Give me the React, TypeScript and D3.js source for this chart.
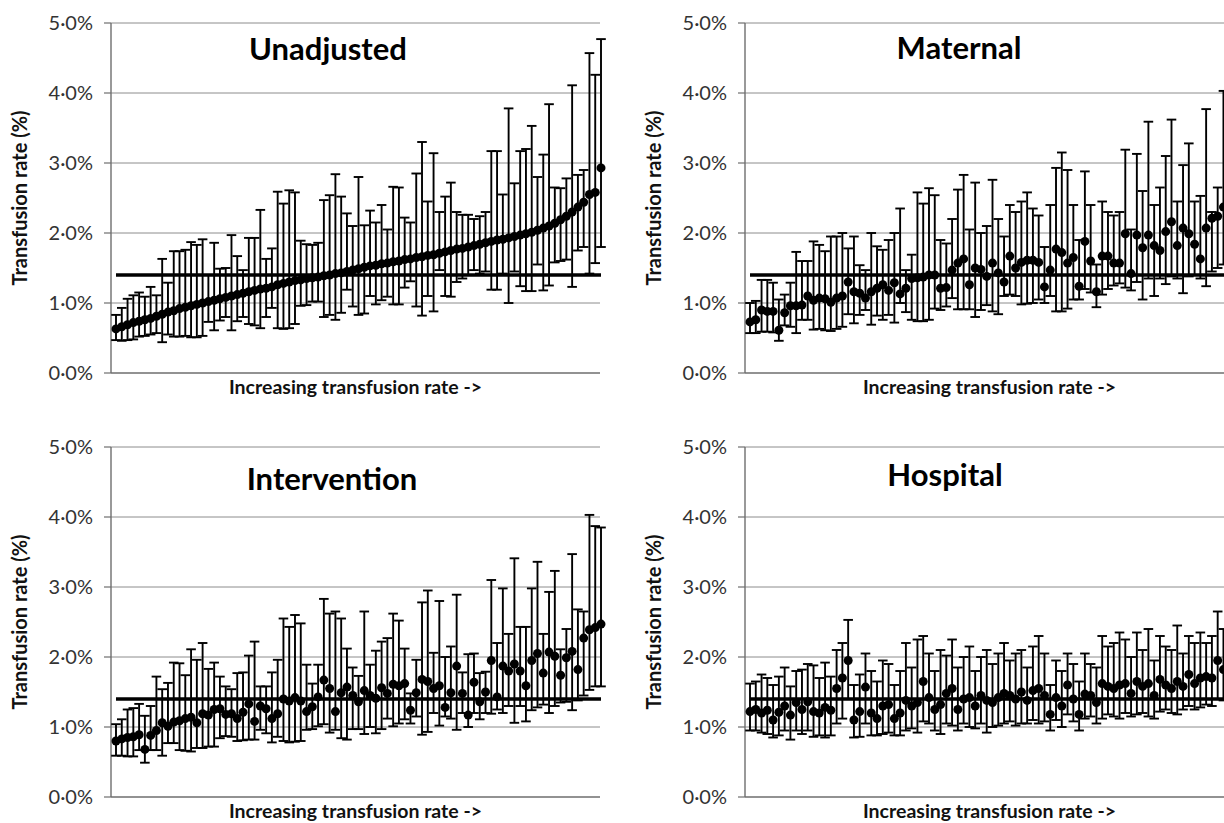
import React, { useEffect, useRef } from 'react';
import * as d3 from 'd3';

// hospitals in the same order in every panel (sorted by unadjusted rate)
const unadjustedRate = [
  0.63, 0.66, 0.69, 0.72, 0.74, 0.76, 0.78, 0.81, 0.84, 0.87,
  0.89, 0.92, 0.94, 0.96, 0.98, 1.00, 1.02, 1.04, 1.06, 1.08,
  1.10, 1.12, 1.14, 1.16, 1.18, 1.20, 1.21, 1.23, 1.26, 1.28,
  1.30, 1.32, 1.33, 1.35, 1.36, 1.37, 1.39, 1.40, 1.42, 1.43,
  1.45, 1.47, 1.49, 1.51, 1.53, 1.54, 1.56, 1.57, 1.59, 1.60,
  1.62, 1.63, 1.65, 1.66, 1.68, 1.69, 1.71, 1.73, 1.75, 1.77,
  1.78, 1.80, 1.82, 1.84, 1.86, 1.88, 1.90, 1.91, 1.93, 1.95,
  1.97, 1.99, 2.01, 2.04, 2.07, 2.10, 2.14, 2.19, 2.24, 2.30,
  2.37, 2.44, 2.55, 2.58, 2.93,
];
const unadjustedUpper = [
  0.83, 0.93, 1.06, 1.11, 1.15, 1.09, 1.23, 1.11, 1.63, 1.29,
  1.74, 1.74, 1.76, 1.87, 1.83, 1.91, 1.40, 1.86, 1.49, 1.50,
  1.97, 1.67, 1.47, 1.93, 1.93, 2.33, 1.63, 1.78, 2.59, 2.42,
  2.61, 2.58, 1.89, 1.84, 1.83, 1.86, 2.47, 2.54, 2.84, 2.52,
  2.28, 2.10, 2.80, 2.11, 2.32, 2.15, 2.40, 2.05, 2.66, 2.65,
  2.22, 2.15, 2.85, 3.30, 2.45, 3.14, 2.30, 2.52, 2.72, 2.30,
  2.26, 2.26, 2.20, 2.24, 2.30, 3.17, 3.17, 2.55, 3.78, 2.71,
  3.17, 3.20, 3.53, 2.80, 3.12, 3.84, 2.65, 2.64, 2.78, 4.11,
  2.83, 2.90, 4.57, 4.26, 4.77,
];
const unadjustedLower = [
  0.47, 0.46, 0.47, 0.48, 0.52, 0.53, 0.55, 0.57, 0.44, 0.55,
  0.52, 0.52, 0.53, 0.51, 0.51, 0.53, 0.73, 0.61, 0.75, 0.80,
  0.61, 0.74, 0.80, 0.70, 0.68, 0.64, 0.80, 0.93, 0.64, 0.63,
  0.64, 0.70, 0.96, 0.97, 1.02, 1.02, 0.80, 0.83, 0.76, 0.86,
  1.19, 0.95, 0.83, 0.85, 1.10, 0.98, 1.04, 1.09, 0.98, 0.98,
  1.22, 1.31, 0.95, 0.82, 1.10, 0.88, 1.47, 1.10, 1.09, 1.30,
  1.35, 1.40, 1.47, 1.42, 1.45, 1.19, 1.19, 1.42, 1.00, 1.45,
  1.24, 1.17, 1.17, 1.55, 1.18, 1.25, 1.58, 1.60, 1.62, 1.23,
  1.75, 1.80, 1.42, 1.57, 1.80,
];

const maternalRate = [
  0.73, 0.76, 0.90, 0.88, 0.88, 0.61, 0.86, 0.96, 0.96, 0.97,
  1.10, 1.04, 1.07, 1.06, 1.01, 1.07, 1.10, 1.30, 1.16, 1.14,
  1.07, 1.16, 1.21, 1.26, 1.18, 1.29, 1.13, 1.21, 1.35, 1.36,
  1.37, 1.40, 1.40, 1.21, 1.22, 1.47, 1.57, 1.63, 1.26, 1.50,
  1.48, 1.38, 1.57, 1.43, 1.30, 1.67, 1.50, 1.58, 1.61, 1.61,
  1.58, 1.23, 1.47, 1.77, 1.72, 1.57, 1.65, 1.24, 1.88, 1.60,
  1.16, 1.67, 1.67, 1.57, 1.57, 1.99, 1.42, 1.97, 1.79, 1.97,
  1.82, 1.75, 2.02, 2.16, 1.82, 2.07, 1.99, 1.84, 1.63, 2.07,
  2.21, 2.24, 2.37, 2.25, 2.45,
];
const maternalUpper = [
  1.00, 1.03, 1.33, 1.33, 1.29, 1.05, 1.12, 1.29, 1.73, 1.60,
  1.60, 1.88, 1.83, 1.74, 1.95, 1.95, 2.00, 1.78, 1.95, 1.54,
  1.47, 2.00, 1.81, 1.76, 1.90, 2.00, 2.35, 1.47, 1.69, 2.58,
  2.42, 2.64, 2.54, 1.90, 1.85, 2.20, 2.62, 2.83, 2.05, 2.72,
  2.00, 2.10, 2.76, 2.20, 1.95, 2.40, 2.30, 2.45, 2.58, 2.35,
  2.25, 1.80, 2.40, 2.93, 3.15, 2.90, 2.40, 1.90, 2.88, 2.40,
  1.55, 2.45, 2.30, 2.25, 2.30, 3.19, 2.05, 3.13, 2.60, 3.59,
  2.40, 2.65, 3.10, 3.62, 2.45, 2.97, 3.28, 2.45, 2.53, 3.77,
  2.30, 2.65, 4.03, 3.70, 4.20,
];
const maternalLower = [
  0.57, 0.57, 0.59, 0.59, 0.58, 0.46, 0.68, 0.66, 0.57, 0.76,
  0.76, 0.62, 0.63, 0.61, 0.60, 0.63, 0.66, 0.84, 0.71, 0.83,
  0.90, 0.69, 0.82, 0.76, 0.83, 0.72, 1.00, 0.87, 0.76, 0.74,
  0.74, 0.76, 0.92, 0.90, 0.95, 1.07, 0.91, 0.91, 0.91, 0.80,
  0.90, 0.97, 0.88, 0.84, 1.10, 1.12, 1.10, 0.98, 0.99, 1.00,
  1.05, 1.00, 1.10, 0.88, 0.88, 0.92, 1.05, 1.05, 1.20, 1.15,
  0.94, 1.12, 1.20, 1.25, 1.28, 1.22, 1.18, 1.30, 1.05, 1.35,
  1.10, 1.35, 1.27, 1.38, 1.35, 1.14, 1.38, 1.40, 1.35, 1.24,
  1.45, 1.50, 1.55, 1.50, 1.60,
];

const interventionRate = [
  0.80, 0.83, 0.85, 0.86, 0.89, 0.68, 0.88, 0.95, 1.06, 1.01,
  1.07, 1.09, 1.12, 1.14, 1.06, 1.19, 1.17, 1.25, 1.26, 1.18,
  1.19, 1.12, 1.21, 1.33, 1.08, 1.30, 1.26, 1.12, 1.19, 1.40,
  1.37, 1.42, 1.37, 1.22, 1.29, 1.43, 1.67, 1.55, 1.22, 1.49,
  1.57, 1.45, 1.36, 1.52, 1.45, 1.41, 1.56, 1.48, 1.61, 1.59,
  1.62, 1.24, 1.49, 1.68, 1.65, 1.55, 1.59, 1.28, 1.49, 1.87,
  1.48, 1.17, 1.64, 1.36, 1.50, 1.95, 1.43, 1.87, 1.80, 1.90,
  1.80, 1.59, 1.95, 2.05, 1.77, 2.07, 2.01, 1.74, 1.99, 2.08,
  1.82, 2.27, 2.39, 2.42, 2.47,
];
const interventionUpper = [
  1.04, 1.11, 1.25, 1.27, 1.33, 1.16, 1.30, 1.72, 1.54, 1.63,
  1.92, 1.91, 1.74, 2.11, 1.96, 2.20, 1.83, 1.92, 1.72, 1.58,
  1.54, 1.77, 1.78, 2.02, 2.22, 1.58, 1.58, 1.78, 1.96, 2.55,
  2.43, 2.60, 2.48, 1.89, 1.62, 1.89, 2.83, 2.62, 2.65, 2.55,
  2.12, 1.85, 1.73, 2.65, 1.89, 2.09, 2.22, 2.27, 2.62, 2.52,
  2.12, 1.48, 1.96, 2.78, 2.95, 2.06, 2.80, 2.00, 2.15, 2.89,
  1.78, 2.04, 2.05, 1.77, 1.79, 3.10, 2.20, 2.98, 2.33, 3.41,
  2.43, 2.43, 2.98, 3.36, 2.33, 2.93, 3.23, 2.11, 2.40, 3.47,
  2.68, 2.65, 4.03, 3.87, 3.85,
];
const interventionLower = [
  0.59, 0.59, 0.58, 0.58, 0.67, 0.49, 0.67, 0.67, 0.59, 0.77,
  0.77, 0.67, 0.66, 0.65, 0.70, 0.70, 0.72, 0.72, 0.84, 0.87,
  0.86, 0.80, 0.81, 0.82, 0.82, 0.96, 0.91, 0.78, 0.86, 0.80,
  0.78, 0.79, 0.80, 0.96, 0.97, 1.01, 1.04, 0.92, 0.96, 0.84,
  0.82, 0.97, 0.97, 0.90, 1.00, 0.91, 0.97, 1.12, 1.01, 1.05,
  1.11, 1.05, 1.15, 0.89, 0.93, 1.20, 1.02, 1.15, 1.12, 0.96,
  1.20, 1.00, 1.20, 1.11, 1.20, 1.19, 1.25, 1.20, 1.30, 1.06,
  1.30, 1.08, 1.24, 1.28, 1.32, 1.20, 1.30, 1.35, 1.36, 1.24,
  1.38, 1.45, 1.53, 1.58, 1.58,
];

const hospitalRate = [
  1.22, 1.25, 1.20, 1.24, 1.10, 1.21, 1.30, 1.17, 1.35, 1.25,
  1.36, 1.22, 1.20, 1.28, 1.24, 1.55, 1.70, 1.95, 1.10, 1.22,
  1.57, 1.20, 1.12, 1.30, 1.32, 1.12, 1.20, 1.38, 1.30, 1.35,
  1.65, 1.42, 1.25, 1.32, 1.48, 1.55, 1.25, 1.40, 1.42, 1.30,
  1.45, 1.38, 1.35, 1.42, 1.48, 1.45, 1.40, 1.50, 1.38, 1.52,
  1.55, 1.45, 1.18, 1.42, 1.30, 1.60, 1.40, 1.18, 1.47, 1.45,
  1.35, 1.62, 1.58, 1.55, 1.60, 1.62, 1.48, 1.65, 1.58, 1.62,
  1.45, 1.68, 1.60, 1.55, 1.65, 1.58, 1.75, 1.62, 1.70, 1.72,
  1.70, 1.95, 1.82, 1.90, 2.05,
];
const hospitalUpper = [
  1.62, 1.65, 1.75, 1.70, 1.60, 1.72, 1.85, 1.58, 1.80, 1.82,
  1.90, 1.88, 1.70, 1.92, 1.72, 2.10, 2.20, 2.53, 1.60, 1.75,
  2.05, 1.80, 1.65, 1.95, 1.90, 1.60, 1.80, 2.20, 1.85, 2.25,
  2.30, 2.05, 1.80, 2.10, 2.02, 2.25, 1.85, 2.00, 2.15, 1.80,
  2.00, 2.10, 1.90, 2.05, 2.20, 1.95, 2.05, 2.10, 1.85, 2.15,
  2.30, 2.05, 1.60, 1.95, 1.80, 2.05, 1.90, 1.65, 2.05, 1.90,
  1.85, 2.30, 2.15, 2.20, 2.35, 2.25, 2.00, 2.35, 2.10, 2.40,
  1.95, 2.30, 2.15, 2.10, 2.45, 2.05, 2.30, 2.20, 2.35, 2.20,
  2.30, 2.65, 2.40, 2.55, 2.70,
];
const hospitalLower = [
  0.95, 0.95, 0.92, 0.90, 0.85, 0.88, 0.95, 0.82, 0.95, 0.90,
  0.95, 0.86, 0.88, 0.85, 0.88, 1.05, 1.12, 1.40, 0.85, 0.86,
  1.05, 0.88, 0.88, 0.90, 0.92, 0.88, 0.88, 0.95, 0.98, 0.92,
  1.08, 1.05, 0.95, 0.90, 1.05, 1.02, 0.95, 1.05, 1.00, 0.98,
  1.05, 0.92, 1.00, 1.02, 1.05, 1.08, 1.02, 1.05, 1.05, 1.10,
  1.05, 1.08, 0.95, 1.10, 1.00, 1.18, 1.08, 0.95, 1.12, 1.15,
  1.05, 1.12, 1.18, 1.15, 1.12, 1.20, 1.15, 1.18, 1.20, 1.15,
  1.12, 1.22, 1.25, 1.20, 1.18, 1.25, 1.30, 1.25, 1.28, 1.32,
  1.30, 1.40, 1.38, 1.42, 1.55,
];

const yTicks = [0, 1, 2, 3, 4, 5];
const yTickLabels = ['0·0%', '1·0%', '2·0%', '3·0%', '4·0%', '5·0%'];
const nationalRate = 1.4;
const panelTitles = ['Unadjusted', 'Maternal', 'Intervention', 'Hospital'];
const yAxisTitle = 'Transfusion rate (%)';
const xAxisTitle = 'Increasing transfusion rate ->';

const FONT = 'Lato, "Open Sans", sans-serif';

const App = () => {
  const ref = useRef<SVGSVGElement>(null);

  useEffect(() => {
    const svg = d3.select(ref.current);
    svg.selectAll('*').remove();

    const plotW = 489;
    const plotH = 350;

    const panels = [
      { title: panelTitles[0], rate: unadjustedRate, lo: unadjustedLower, hi: unadjustedUpper, left: 111, top: 23, tx: 217, ty: 37 },
      { title: panelTitles[1], rate: maternalRate, lo: maternalLower, hi: maternalUpper, left: 745, top: 23, tx: 214, ty: 36 },
      { title: panelTitles[2], rate: interventionRate, lo: interventionLower, hi: interventionUpper, left: 111, top: 447, tx: 221, ty: 43 },
      { title: panelTitles[3], rate: hospitalRate, lo: hospitalLower, hi: hospitalUpper, left: 745, top: 447, tx: 200, ty: 39 },
    ];

    panels.forEach(p => {
      const g = svg.append('g').attr('transform', `translate(${p.left},${p.top})`);

      const y = d3.scaleLinear().domain([0, 5]).range([plotH, 0]);
      const x = d3.scalePoint<number>()
        .domain(d3.range(p.rate.length))
        .range([5, plotW + 1]);

      // grid lines
      g.append('g')
        .selectAll('line')
        .data(yTicks.filter(t => t > 0))
        .enter()
        .append('line')
        .attr('x1', 0)
        .attr('x2', plotW)
        .attr('y1', d => y(d))
        .attr('y2', d => y(d))
        .attr('stroke', '#8c8c8c')
        .attr('stroke-width', 1);

      // tick marks
      g.append('g')
        .selectAll('line')
        .data(yTicks)
        .enter()
        .append('line')
        .attr('x1', -7)
        .attr('x2', 0)
        .attr('y1', d => y(d))
        .attr('y2', d => y(d))
        .attr('stroke', '#6e6e6e')
        .attr('stroke-width', 1.2);

      // axes
      g.append('line')
        .attr('x1', 0).attr('x2', plotW)
        .attr('y1', y(0)).attr('y2', y(0))
        .attr('stroke', '#6e6e6e').attr('stroke-width', 1.4);
      g.append('line')
        .attr('x1', 0).attr('x2', 0)
        .attr('y1', y(0)).attr('y2', y(5))
        .attr('stroke', '#6e6e6e').attr('stroke-width', 1.4);

      // tick labels
      g.append('g')
        .selectAll('text')
        .data(yTicks)
        .enter()
        .append('text')
        .attr('x', -18)
        .attr('y', d => y(d))
        .attr('dy', '0.36em')
        .attr('text-anchor', 'end')
        .style('font-family', FONT)
        .style('font-size', '20px')
        .attr('fill', '#333')
        .text((d, i) => yTickLabels[i]);

      // error bars
      const idx = d3.range(p.rate.length);
      const bars = g.append('g').attr('stroke', '#000').attr('stroke-width', 1.9);
      bars.selectAll('line.v')
        .data(idx)
        .enter()
        .append('line')
        .attr('class', 'v')
        .attr('x1', i => x(i)!)
        .attr('x2', i => x(i)!)
        .attr('y1', i => y(p.lo[i]))
        .attr('y2', i => y(p.hi[i]));
      bars.selectAll('line.cu')
        .data(idx)
        .enter()
        .append('line')
        .attr('class', 'cu')
        .attr('x1', i => x(i)! - 4.8)
        .attr('x2', i => x(i)! + 4.8)
        .attr('y1', i => y(p.hi[i]))
        .attr('y2', i => y(p.hi[i]));
      bars.selectAll('line.cl')
        .data(idx)
        .enter()
        .append('line')
        .attr('class', 'cl')
        .attr('x1', i => x(i)! - 4.8)
        .attr('x2', i => x(i)! + 4.8)
        .attr('y1', i => y(p.lo[i]))
        .attr('y2', i => y(p.lo[i]));

      // points
      g.append('g')
        .selectAll('circle')
        .data(idx)
        .enter()
        .append('circle')
        .attr('cx', i => x(i)!)
        .attr('cy', i => y(p.rate[i]))
        .attr('r', 4.5)
        .attr('fill', '#000');

      // national average line
      g.append('line')
        .attr('x1', x(0)!)
        .attr('x2', x(p.rate.length - 1)!)
        .attr('y1', y(nationalRate))
        .attr('y2', y(nationalRate))
        .attr('stroke', '#000')
        .attr('stroke-width', 3.5);

      // panel title
      g.append('text')
        .attr('x', p.tx)
        .attr('y', p.ty)
        .attr('text-anchor', 'middle')
        .style('font-family', FONT)
        .style('font-size', '31px')
        .style('font-weight', 'bold')
        .attr('fill', '#000')
        .text(p.title);

      // axis titles
      g.append('text')
        .attr('transform', `translate(-84,${plotH / 2}) rotate(-90)`)
        .attr('text-anchor', 'middle')
        .style('font-family', FONT)
        .style('font-size', '20px')
        .style('font-weight', 'bold')
        .attr('fill', '#111')
        .text(yAxisTitle);

      g.append('text')
        .attr('x', plotW / 2)
        .attr('y', plotH + 21)
        .attr('text-anchor', 'middle')
        .style('font-family', FONT)
        .style('font-size', '19.5px')
        .style('font-weight', 'bold')
        .attr('fill', '#111')
        .text(xAxisTitle);
    });
  }, []);

  return (
    <svg
      ref={ref}
      width={1224}
      height={823}
      style={{ position: 'absolute', left: 0, top: 0, background: '#fff' }}
    />
  );
};

export default App;
